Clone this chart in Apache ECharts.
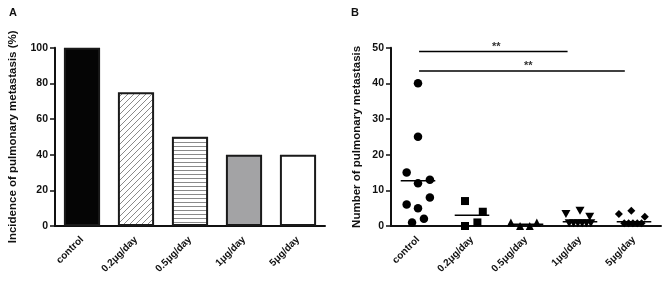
<!DOCTYPE html>
<html>
<head>
<meta charset="utf-8">
<script src="https://cdn.jsdelivr.net/npm/echarts@6/dist/echarts.min.js"></script>
<style>
  html, body { margin: 0; padding: 0; background: #fff; }
  #chart { width: 670px; height: 287px; }
</style>
</head>
<body>
<div id="chart"></div>
<script>
const categories = ['control', '0.2μg/day', '0.5μg/day', '1μg/day', '5μg/day'];

// panel A: incidence (%)
const incidence = [100, 75, 50, 40, 40];
const yTicksA = { min: 0, max: 100, interval: 20 };

// panel B: individual counts, [x offset within group, value]
const controlPts = [[0, 40], [0, 25], [-0.21, 15], [0, 12], [0.22, 13], [0.22, 8], [-0.21, 6], [0, 5], [0.11, 2], [-0.11, 1]];
const dose02Pts = [[-0.13, 7], [0.2, 4], [0.1, 1], [-0.13, 0]];
const dose05Pts = [[-0.28, 1], [-0.11, 0], [0.07, 0], [0.2, 1]];
const dose1Pts = [[0, 4.3], [-0.26, 3.4], [0.18, 2.6], [-0.2, 0.8], [-0.12, 0.8], [-0.04, 0.8], [0.04, 0.8], [0.12, 0.8], [0.2, 0.8]];
const dose5Pts = [[-0.28, 3.4], [-0.05, 4.3], [0.2, 2.6], [-0.18, 0.8], [-0.1, 0.8], [-0.02, 0.8], [0.06, 0.8], [0.14, 0.8]];
const groupMeans = [12.7, 3, 0.5, 1.2, 1.2];
const yTicksB = { min: 0, max: 50, interval: 10 };

// significance brackets: [from, to, y, star x]
const sigLines = [[0.02, 2.77, 48.9, 1.45], [0.02, 3.83, 43.5, 2.04]];

function hatch(kind) {
  const c = document.createElement('canvas');
  const ctx = c.getContext('2d');
  if (kind === 'diag') {
    c.width = 6; c.height = 6;
    ctx.fillStyle = '#fff'; ctx.fillRect(0, 0, 6, 6);
    ctx.strokeStyle = '#8a8a8a';
    ctx.lineWidth = 1;
    ctx.beginPath();
    ctx.moveTo(0, 6); ctx.lineTo(6, 0);
    ctx.moveTo(-1, 1); ctx.lineTo(1, -1);
    ctx.moveTo(5, 7); ctx.lineTo(7, 5);
    ctx.stroke();
  } else {
    c.width = 4; c.height = 4;
    ctx.fillStyle = '#fff'; ctx.fillRect(0, 0, 4, 4);
    ctx.strokeStyle = '#8a8a8a';
    ctx.lineWidth = 1;
    ctx.beginPath();
    ctx.moveTo(0, 2.5); ctx.lineTo(4, 2.5);
    ctx.stroke();
  }
  return { image: c, repeat: 'repeat' };
}

const barFills = ['#050505', hatch('diag'), hatch('horiz'), '#a3a3a5', '#ffffff'];

const chart = echarts.init(document.getElementById('chart'), null, { renderer: 'canvas' });

const font = 'Liberation Sans, Arial, sans-serif';
const ink = '#111';
const grid = { top: 47.7, height: 178.3, width: 270 };

const axisCommonY = {
  type: 'value',
  axisLine: { show: true, onZero: false, lineStyle: { color: ink, width: 2 } },
  axisTick: { show: true, length: 5, lineStyle: { color: ink, width: 1.5 } },
  axisLabel: { color: ink, fontWeight: 'bold', fontSize: 10.5, fontFamily: font, margin: 7 },
  splitLine: { show: false },
  nameLocation: 'middle',
  nameTextStyle: { color: ink, fontWeight: 'bold', fontSize: 11.5, fontFamily: font }
};

const catAxis = (gridIndex) => ({
  type: 'category',
  gridIndex,
  data: categories,
  axisLine: { onZero: false, lineStyle: { color: ink, width: 2 } },
  axisTick: { show: false },
  axisLabel: { color: ink, fontWeight: 'bold', fontSize: 10, fontFamily: font, rotate: 45, margin: 12, interval: 0 }
});

const groups = [controlPts, dose02Pts, dose05Pts, dose1Pts, dose5Pts];
const symbols = ['circle', 'rect', 'triangle', 'path://M0,0 L10,0 L5,9 Z', 'diamond'];
const symbolSizes = [8.5, 8, 8, [9, 8], 8];

const scatterSeries = groups.map((pts, i) => ({
  type: 'scatter',
  xAxisIndex: 2,
  yAxisIndex: 1,
  symbol: symbols[i],
  symbolSize: symbolSizes[i],
  itemStyle: { color: '#000', opacity: 1 },
  data: pts.map(p => [i + p[0], p[1]]),
  z: 3
}));

const option = {
  animation: false,
  textStyle: { fontFamily: font },
  title: [
    { text: 'A', left: 4, top: 2, textStyle: { fontSize: 11, fontWeight: 'bold', color: ink, fontFamily: font } },
    { text: 'B', left: 346, top: 2, textStyle: { fontSize: 11, fontWeight: 'bold', color: ink, fontFamily: font } }
  ],
  grid: [
    Object.assign({ left: 55 }, grid),
    Object.assign({ left: 391 }, grid)
  ],
  xAxis: [
    catAxis(0),
    catAxis(1),
    { type: 'value', gridIndex: 1, min: -0.5, max: 4.5, show: false }
  ],
  yAxis: [
    Object.assign({}, axisCommonY, { gridIndex: 0, min: yTicksA.min, max: yTicksA.max, interval: yTicksA.interval,
      name: 'Incidence of pulmonary metastasis (%)', nameGap: 36 }),
    Object.assign({}, axisCommonY, { gridIndex: 1, min: yTicksB.min, max: yTicksB.max, interval: yTicksB.interval,
      name: 'Number of pulmonary metastasis', nameGap: 28 })
  ],
  series: [
    {
      type: 'bar',
      xAxisIndex: 0,
      yAxisIndex: 0,
      barCategoryGap: '33%',
      data: incidence.map((v, i) => ({
        value: v,
        itemStyle: { color: barFills[i], borderColor: '#1a1a1a', borderWidth: 2 }
      }))
    },
    ...scatterSeries,
    {
      type: 'custom',
      xAxisIndex: 2,
      yAxisIndex: 1,
      data: groupMeans.map((m, i) => [i, m]),
      renderItem: (params, api) => {
        const a = api.coord([api.value(0) - 0.32, api.value(1)]);
        const b = api.coord([api.value(0) + 0.32, api.value(1)]);
        return { type: 'line', shape: { x1: a[0], y1: a[1], x2: b[0], y2: b[1] },
          style: { stroke: '#000', lineWidth: 1.5 }, z2: 5 };
      },
      z: 4
    },
    {
      type: 'custom',
      xAxisIndex: 2,
      yAxisIndex: 1,
      data: sigLines,
      renderItem: (params, api) => {
        const a = api.coord([api.value(0), api.value(2)]);
        const b = api.coord([api.value(1), api.value(2)]);
        const s = api.coord([api.value(3), api.value(2)]);
        return { type: 'group', children: [
          { type: 'line', shape: { x1: a[0], y1: a[1], x2: b[0], y2: b[1] }, style: { stroke: '#000', lineWidth: 1.5 } },
          { type: 'text', style: { text: '**', x: s[0], y: a[1] + 1, align: 'center', verticalAlign: 'bottom',
            fill: '#333', font: 'bold 11px ' + font } }
        ] };
      }
    }
  ]
};

chart.setOption(option);
</script>
</body>
</html>
